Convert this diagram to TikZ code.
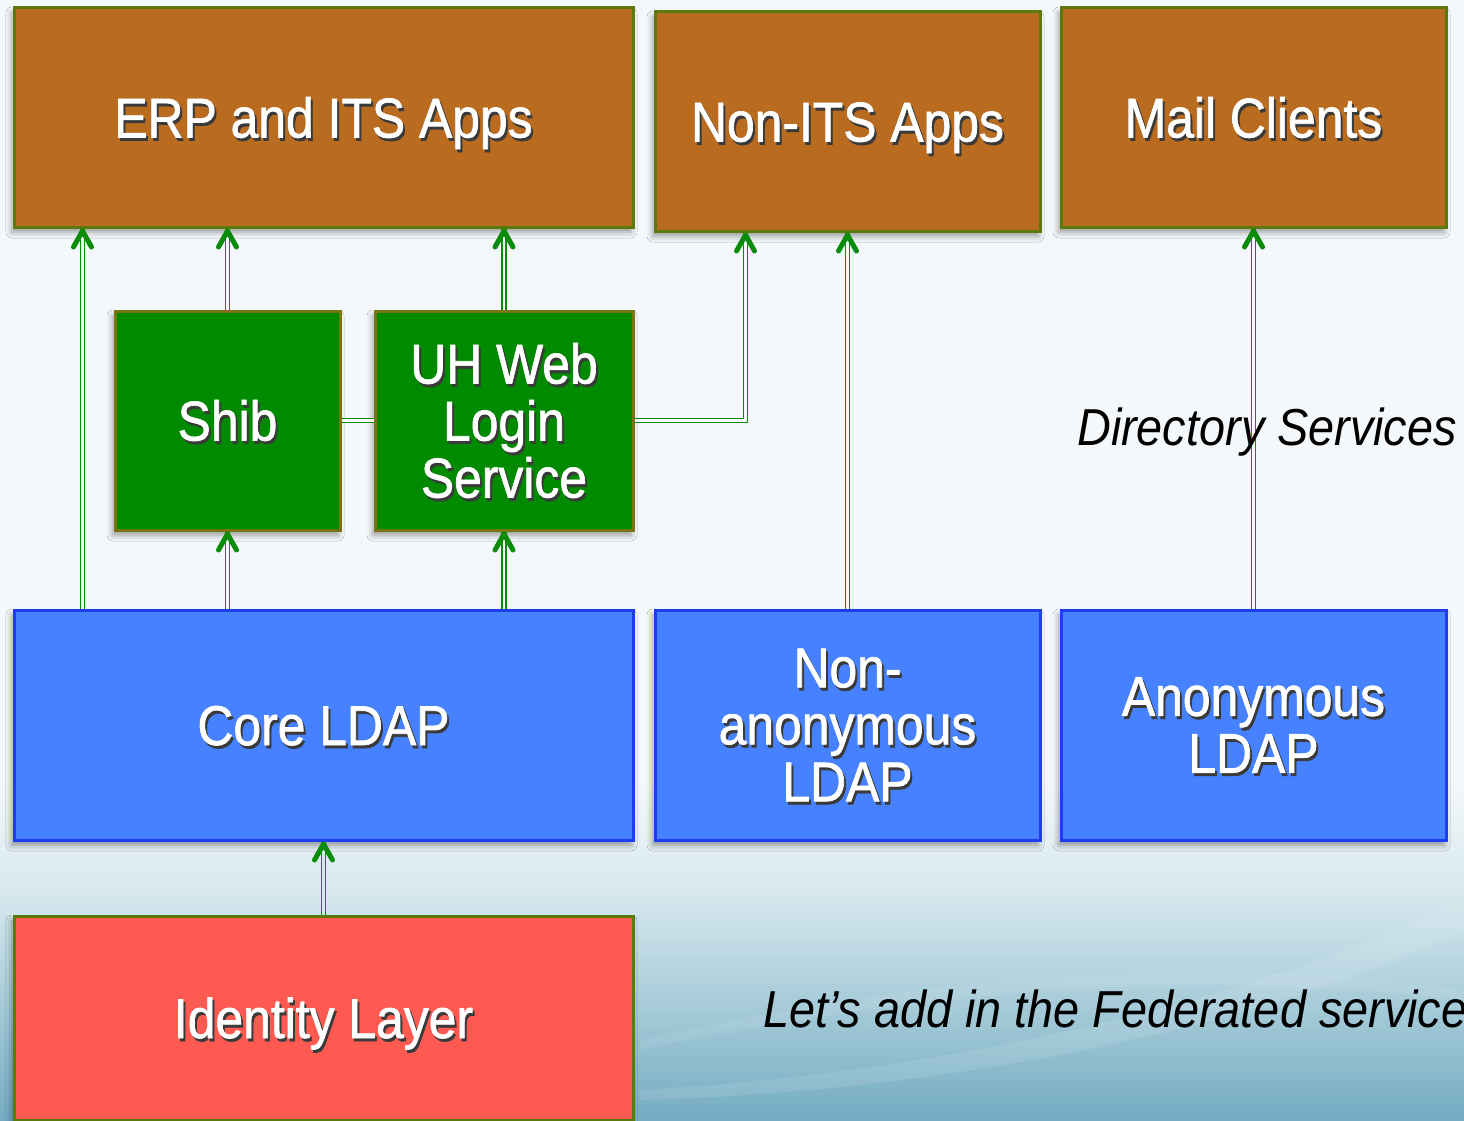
\documentclass[tikz,border=0pt]{standalone}
\usepackage{fontspec}
\setmainfont{Liberation Sans}
\newfontfamily\lblfont[FakeStretch=0.89,FakeBold=1.2]{Liberation Sans}
\newfontfamily\notefont[FakeStretch=0.9]{Liberation Sans}
\usetikzlibrary{decorations.markings,shadows.blur}
\definecolor{bgtop}{HTML}{F5F8FA}
\definecolor{bgmid}{HTML}{D4E7ED}
\definecolor{bgbot}{HTML}{74ACC2}
\definecolor{brownfill}{HTML}{B96B1F}
\definecolor{olive}{HTML}{5B7A0A}
\definecolor{greenfill}{HTML}{008A00}
\definecolor{bluefill}{HTML}{4682FF}
\definecolor{blueline}{HTML}{1E3CF0}
\definecolor{redfill}{HTML}{FF5A52}
\definecolor{arrowgreen}{HTML}{0A8C0A}
\definecolor{shadowc}{HTML}{3A3A3A}
\newcommand\shd[1]{\leavevmode\rlap{\kern2pt\raisebox{-3pt}[0pt][0pt]{\textcolor{shadowc}{#1}}}#1}
\tikzset{
  box/.style={rectangle, inner sep=0pt, line width=3pt, text=white, align=center,
    font=\lblfont\fontsize{56}{57}\selectfont,
    blur shadow={shadow xshift=-2pt, shadow yshift=-5pt, shadow blur radius=6pt, shadow opacity=40}},
  oneline/.style={text height=40pt, text depth=0pt},
  appbox/.style={box, draw=olive, fill=brownfill},
  webbox/.style={box, draw=olive!70!brownfill, fill=greenfill},
  ldapbox/.style={box, draw=blueline, fill=bluefill},
  idbox/.style={box, draw=olive, fill=redfill},
  conn/.style={draw=arrowgreen, line width=5.6pt,
    postaction={draw=#1, line width=2.4pt, shorten >=7pt}},
  conn/.default=bgtop,
  tip/.style={postaction={decorate, decoration={markings, mark=at position 1 with {
    \draw[arrowgreen, line width=5pt, line cap=round, line join=round]
      (-18.5pt,-9pt) -- (-2.5pt,0pt) -- (-18.5pt,9pt);}}}},
  note/.style={font=\notefont\itshape\fontsize{52}{60}\selectfont, text=black, inner sep=0pt, anchor=base west}
}
\begin{document}
\begin{tikzpicture}[x=1pt,y=-1pt]
\useasboundingbox (0,0) rectangle (1464,1121);
\clip (0,0) rectangle (1464,1121);
% background
\fill[bgtop] (0,0) rectangle (1464,1121);
\shade[top color=bgtop, bottom color=bgmid] (0,780) rectangle (1464,900);
\shade[top color=bgmid, bottom color=bgbot] (0,899) rectangle (1464,1121);
\fill[white, opacity=0.10] (640,1090) .. controls (1000,1070) and (1300,980) .. (1464,900)
  -- (1464,930) .. controls (1300,1010) and (1000,1090) .. (640,1100) -- cycle;
\fill[white, opacity=0.08] (640,1040) .. controls (1000,960) and (1250,960) .. (1464,990)
  -- (1464,1000) .. controls (1250,975) and (1000,975) .. (640,1050) -- cycle;

% boxes
\node[appbox, oneline, minimum width=619pt, minimum height=219pt] (erp) at (323.5,117.5) {\shd{ERP and ITS Apps}};
\node[appbox, oneline, minimum width=385pt, minimum height=219pt] (nonits) at (847.5,121.5) {\shd{Non-ITS Apps}};
\node[appbox, oneline, minimum width=385pt, minimum height=219pt] (mail) at (1253.5,117.5) {\shd{Mail Clients}};
\node[webbox, oneline, minimum width=225pt, minimum height=219pt] (shib) at (227.5,420.5) {\shd{Shib}};
\node[webbox, minimum width=258pt, minimum height=219pt] (uh) at (504,420.5) {\shd{UH Web}\\\shd{Login}\\\shd{Service}};
\node[ldapbox, oneline, minimum width=619pt, minimum height=230pt] (core) at (323.5,725) {\shd{Core LDAP}};
\node[ldapbox, minimum width=385pt, minimum height=230pt] (nonanon) at (847.5,725) {\shd{Non-}\\\shd{anonymous}\\\shd{LDAP}};
\node[ldapbox, minimum width=385pt, minimum height=230pt] (anon) at (1253.5,725) {\shd{Anonymous}\\\shd{LDAP}};
\node[idbox, oneline, minimum width=619pt, minimum height=204pt] (ident) at (323.5,1018) {\shd{Identity Layer}};

% connectors
\draw[conn, tip] ([xshift=70pt]core.north west) -- ([xshift=70pt]erp.south west);
\draw[conn, tip] (shib.north) -- (shib.north |- erp.south);
\draw[conn, tip] (uh.north) -- (uh.north |- erp.south);
\draw[conn, tip] (shib.south |- core.north) -- (shib.south);
\draw[conn, tip] (uh.south |- core.north) -- (uh.south);
\draw[conn, postaction={draw=bgtop, line width=2.4pt}] (shib.east) -- (uh.west);
\draw[conn, tip] (uh.east) -| ([xshift=92pt]nonits.south west);
\draw[conn, tip] (nonanon.north) -- (nonits.south);
\draw[conn, tip] (anon.north) -- (mail.south);
\draw[conn=bgmid, tip] (ident.north) -- (core.south);

% notes
\node[note] (dirsvc) at (1077,445) {Directory Services};
\node[note] (fed) at (763,1027) {Let’s add in the Federated service};
\end{tikzpicture}
\end{document}
